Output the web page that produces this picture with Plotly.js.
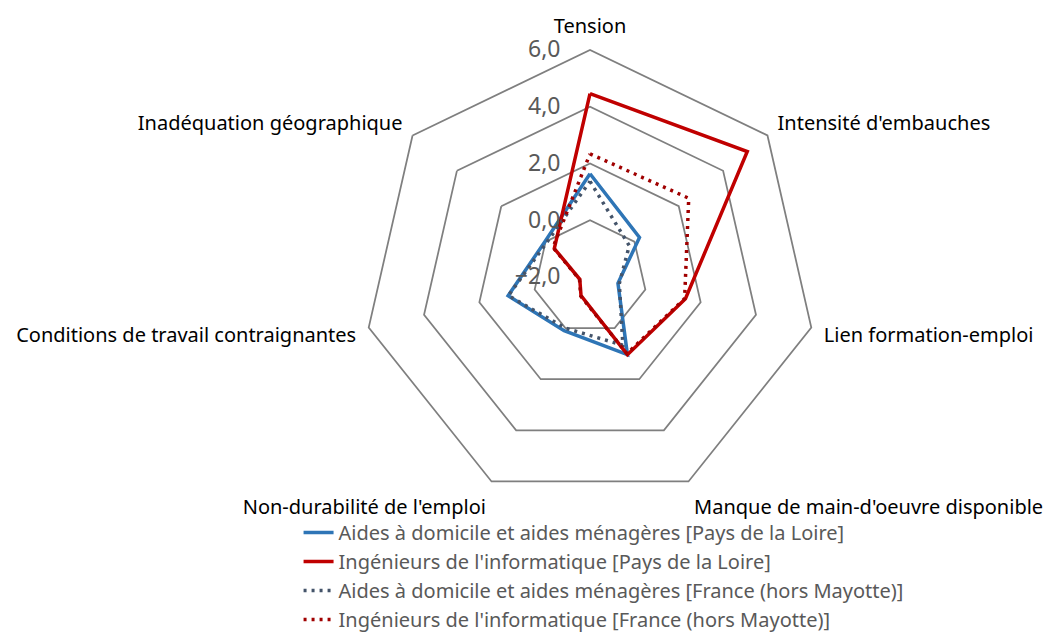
<!DOCTYPE html>
<html>
<head>
<meta charset="utf-8">
<script src="https://cdn.plot.ly/plotly-3.0.1.min.js"></script>
<style>
  html, body { margin: 0; padding: 0; background: #ffffff; }
  #chart { width: 1055px; height: 639px; }
</style>
</head>
<body>
<div id="chart"></div>
<script>
(function () {
    const fontFamily = '"Noto Sans", "Open Sans", sans-serif';

    const axes = [
        'Tension',
        "Intensité d'embauches",
        'Lien formation-emploi',
        "Manque de main-d'oeuvre disponible",
        "Non-durabilité de l'emploi",
        'Conditions de travail contraignantes',
        'Inadéquation géographique'
    ];

    const seriesNames = [
        'Aides à domicile et aides ménagères [Pays de la Loire]',
        "Ingénieurs de l'informatique [Pays de la Loire]",
        'Aides à domicile et aides ménagères [France (hors Mayotte)]',
        "Ingénieurs de l'informatique [France (hors Mayotte)]"
    ];

    const aidesPdl = [1.64, 0.23, -0.99, 1.04, 0.10, 0.96, 0.02];
    const ingePdl = [4.46, 5.09, 1.45, 1.04, -1.27, -1.63, -0.39];
    const aidesFr = [1.37, -0.23, -0.94, 0.67, 0.0, 0.95, -0.05];
    const ingeFr = [2.34, 2.45, 1.42, 1.0, -1.25, -1.62, -0.33];

    const seriesValues = [aidesPdl, ingePdl, aidesFr, ingeFr];
    const seriesColors = ['#2E75B6', '#C00000', '#44546A', '#A00000'];
    const seriesDash = ['solid', 'solid', '3px,5px', '3px,5px'];

    const close = arr => arr.concat(arr.slice(0, 1));

    const data = seriesValues.map((vals, i) => ({
        type: 'scatterpolar',
        mode: 'lines',
        r: close(vals),
        theta: close(axes),
        name: seriesNames[i],
        line: { color: seriesColors[i], width: 3.5, dash: seriesDash[i] },
        hoverinfo: 'skip'
    }));

    const layout = {
        width: 1055,
        height: 639,
        margin: { l: 0, r: 0, t: 0, b: 0 },
        paper_bgcolor: '#ffffff',
        font: { family: fontFamily, color: '#000000' },
        separators: ',.',
        polar: {
            domain: { x: [0.3441, 0.7744], y: [0.2113, 0.9218] },
            gridshape: 'linear',
            bgcolor: 'rgba(0,0,0,0)',
            radialaxis: {
                range: [-2, 6],
                tick0: -2,
                dtick: 2,
                tickformat: '.1f',
                angle: 90,
                tickangle: 90,
                side: 'counterclockwise',
                showline: false,
                ticks: 'outside',
                ticklen: 21,
                tickcolor: 'rgba(0,0,0,0)',
                gridcolor: '#7f7f7f',
                gridwidth: 1.75,
                tickfont: { family: fontFamily, size: 23, color: '#595959' }
            },
            angularaxis: {
                rotation: 90,
                direction: 'clockwise',
                showgrid: false,
                showline: true,
                linecolor: '#7f7f7f',
                linewidth: 1.75,
                ticks: 'outside',
                ticklen: 8,
                tickcolor: 'rgba(0,0,0,0)',
                tickfont: { family: fontFamily, size: 20, color: '#000000' }
            }
        },
        showlegend: true,
        legend: {
            x: 0.283,
            y: 0,
            xanchor: 'left',
            yanchor: 'bottom',
            font: { family: fontFamily, size: 20, color: '#595959' },
            bgcolor: 'rgba(0,0,0,0)'
        }
    };

    Plotly.newPlot('chart', data, layout, { displayModeBar: false, staticPlot: true });
})();
</script>
</body>
</html>
